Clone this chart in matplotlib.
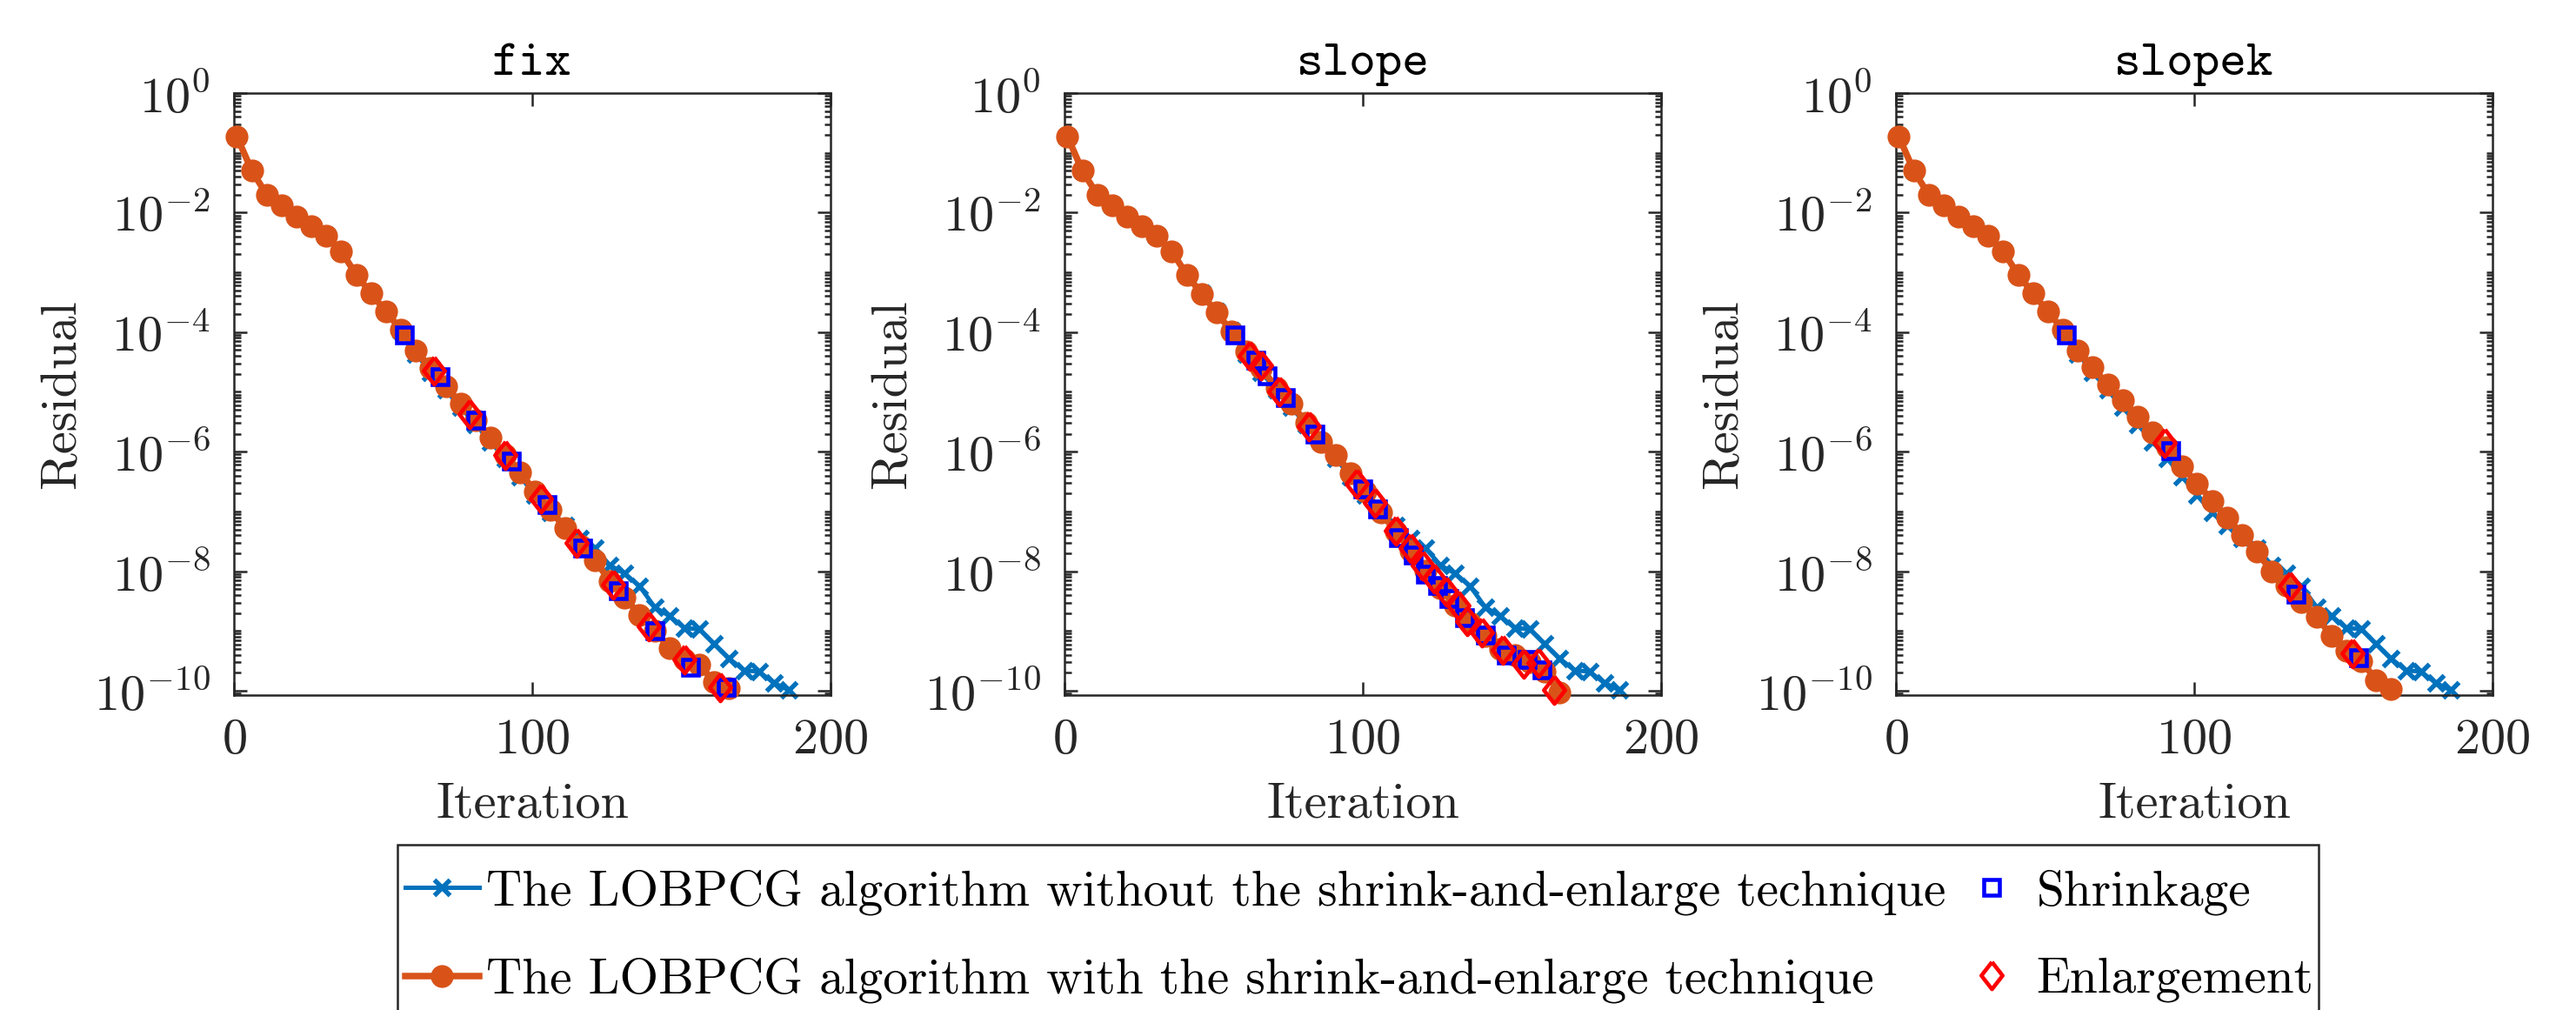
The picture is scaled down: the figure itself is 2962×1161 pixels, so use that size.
import numpy as np
import matplotlib
matplotlib.use("Agg")
import matplotlib.pyplot as plt
from matplotlib.patches import Rectangle
from matplotlib.ticker import FixedLocator, FixedFormatter, LogLocator, NullFormatter

plt.rcParams['mathtext.fontset'] = 'cm'
plt.rcParams['axes.formatter.use_mathtext'] = True
plt.rcParams['font.family'] = 'cmr10'

# ---------------- data (log10 of residual) ----------------
titles = ["fix", "slope", "slopek"]

base_iter = [1, 6, 11, 16, 21, 26, 31, 36, 41, 46, 51, 56, 61, 66, 71, 76, 81, 86, 91,
             96, 101, 106, 111, 116, 121, 126, 131, 136, 141, 146, 151, 156, 161, 166,
             171, 176, 181, 186]
base_log = [-0.73, -1.30, -1.70, -1.88, -2.06, -2.23, -2.39, -2.65, -3.04, -3.35, -3.66,
            -3.98, -4.36, -4.67, -4.97, -5.26, -5.54, -5.83, -6.12, -6.42, -6.73, -7.02,
            -7.24, -7.45, -7.61, -7.90, -8.04, -8.25, -8.60, -8.75, -8.95, -8.97, -9.22,
            -9.46, -9.66, -9.68, -9.87, -9.99]

se_iter = [1, 6, 11, 16, 21, 26, 31, 36, 41, 46, 51, 56, 61, 66, 71, 76, 81, 86, 91,
           96, 101, 106, 111, 116, 121, 126, 131, 136, 141, 146, 151, 156, 161, 166]
fix_log = [-0.73, -1.30, -1.70, -1.88, -2.06, -2.23, -2.39, -2.65, -3.04, -3.35, -3.66,
           -3.96, -4.31, -4.60, -4.90, -5.19, -5.47, -5.76, -6.06, -6.35, -6.67, -6.97,
           -7.28, -7.57, -7.82, -8.16, -8.44, -8.73, -8.99, -9.29, -9.47, -9.57, -9.85,
           -9.96]
slope_log = [-0.73, -1.30, -1.70, -1.88, -2.06, -2.23, -2.39, -2.65, -3.04, -3.36, -3.67,
             -3.99, -4.33, -4.60, -4.93, -5.19, -5.52, -5.83, -6.05, -6.36, -6.67, -7.02,
             -7.33, -7.65, -7.99, -8.28, -8.58, -8.86, -9.08, -9.30, -9.40, -9.52, -9.68,
             -10.03]
slopek_log = [-0.73, -1.30, -1.70, -1.88, -2.06, -2.23, -2.39, -2.65, -3.04, -3.35, -3.66,
              -3.96, -4.31, -4.59, -4.88, -5.14, -5.41, -5.67, -5.93, -6.25, -6.53, -6.82,
              -7.10, -7.39, -7.67, -8.01, -8.24, -8.52, -8.76, -9.08, -9.33, -9.50, -9.82,
              -9.97]

fix_shrink_iter = [57, 69, 81, 93, 105, 117, 129, 141, 153, 165]
fix_shrink_log = [-4.04, -4.74, -5.47, -6.16, -6.89, -7.62, -8.32, -8.99, -9.61, -9.94]
fix_enl_iter = [67, 79, 91, 103, 115, 127, 139, 151, 163]
fix_enl_log = [-4.65, -5.37, -6.06, -6.79, -7.53, -8.22, -8.93, -9.47, -9.94]

slope_shrink_iter = [57, 64, 68, 74, 84, 100, 105, 112, 117, 121, 125, 129, 134, 141,
                     148, 155, 160]
slope_shrink_log = [-4.05, -4.47, -4.73, -5.09, -5.70, -6.63, -6.96, -7.44, -7.73, -8.05,
                    -8.24, -8.46, -8.78, -9.07, -9.41, -9.48, -9.65]
slope_enl_iter = [62, 66, 72, 82, 98, 104, 111, 116, 120, 124, 128, 132, 135, 140, 147,
                  154, 159, 164]
slope_enl_log = [-4.39, -4.56, -4.99, -5.57, -6.53, -6.86, -7.32, -7.61, -7.90, -8.12,
                 -8.34, -8.58, -8.83, -9.02, -9.31, -9.55, -9.53, -9.99]

slopek_shrink_iter = [57, 92, 134, 155]
slopek_shrink_log = [-4.04, -5.98, -8.39, -9.45]
slopek_enl_iter = [90, 132, 153]
slopek_enl_log = [-5.85, -8.26, -9.38]

xticks = [0, 100, 200]
ytick_exps = [0, -2, -4, -6, -8, -10]

legend_labels = ["The LOBPCG algorithm without the shrink-and-enlarge technique",
                 "The LOBPCG algorithm with the shrink-and-enlarge technique",
                 "Shrinkage", "Enlargement"]

# ---------------- styling ----------------
C_BLUE = "#0072BD"
C_ORANGE = "#D95319"
AX_COLOR = "#262626"
DIAMOND = [(0, 1), (0.78, 0), (0, -1), (-0.78, 0), (0, 1)]

W, H = 2962, 1161
DPI = 300
fig = plt.figure(figsize=(W / DPI, H / DPI), dpi=DPI)

ax_lefts = [269, 1224, 2180]
ax_w = 686
ax_top, ax_bot = 107, 799

series = [
    (fix_log, fix_shrink_iter, fix_shrink_log, fix_enl_iter, fix_enl_log),
    (slope_log, slope_shrink_iter, slope_shrink_log, slope_enl_iter, slope_enl_log),
    (slopek_log, slopek_shrink_iter, slopek_shrink_log, slopek_enl_iter, slopek_enl_log),
]

handles = None
for k, (title, left) in enumerate(zip(titles, ax_lefts)):
    ax = fig.add_axes([left / W, 1 - ax_bot / H, ax_w / W, (ax_bot - ax_top) / H])
    se_log, sh_it, sh_log, en_it, en_log = series[k]
    hb, = ax.plot(base_iter, 10 ** np.array(base_log), color=C_BLUE, lw=1.2,
                  marker='x', ms=4.5, mew=1.3, zorder=2, clip_on=False)
    ho, = ax.plot(se_iter, 10 ** np.array(se_log), color=C_ORANGE, lw=1.8,
                  marker='o', ms=5.3, mfc=C_ORANGE, mec=C_ORANGE, zorder=3, clip_on=False)
    hs, = ax.plot(sh_it, 10 ** np.array(sh_log), ls='none', marker='s', ms=4.5,
                  mfc='none', mec='#0000FF', mew=1.1, zorder=4, clip_on=False)
    he, = ax.plot(en_it, 10 ** np.array(en_log), ls='none', marker=DIAMOND, ms=7.5,
                  mfc='none', mec='#FF0000', mew=1.1, zorder=5, clip_on=False)
    if handles is None:
        handles = [hb, ho, hs, he]

    ax.set_yscale('log')
    ax.set_xlim(0, 200)
    ax.set_ylim(10 ** -10.073, 1)
    ax.xaxis.set_major_locator(FixedLocator(xticks))
    ax.set_xticklabels([r'$%d$' % v for v in xticks])
    ax.yaxis.set_major_locator(FixedLocator([10.0 ** e for e in ytick_exps]))
    ax.yaxis.set_major_formatter(FixedFormatter([r'$10^{%d}$' % e for e in ytick_exps]))
    ax.yaxis.set_minor_locator(LogLocator(base=10, subs=np.arange(1, 10), numticks=100))
    ax.yaxis.set_minor_formatter(NullFormatter())
    ax.tick_params(which='both', direction='in', top=True, right=True,
                   colors=AX_COLOR, labelsize=14, width=0.6)
    ax.tick_params(which='major', length=3.5, pad=6.5)
    ax.tick_params(which='minor', length=1.8)
    for sp in ax.spines.values():
        sp.set_color(AX_COLOR)
        sp.set_linewidth(0.6)

    ax.set_title(title, fontfamily='cmtt10', fontsize=14, pad=5, color='black')
    ax.set_xlabel('Iteration', fontfamily='cmr10', fontsize=14, color=AX_COLOR)
    ax.set_ylabel('Residual', fontfamily='cmr10', fontsize=14, color=AX_COLOR)
    ax.xaxis.set_label_coords(0.5, -0.145)
    ax.yaxis.set_label_coords(-0.25, 0.5)

# legend: entries without frame, frame drawn as a box running past the figure bottom
leg = fig.legend(handles, legend_labels, loc='upper left',
                 bbox_to_anchor=(466 / W, 1 - 999 / H), ncol=2,
                 prop={'family': 'cmr10', 'size': 13.75}, frameon=False,
                 handlelength=1.48, handletextpad=0.15,
                 columnspacing=0.18, labelspacing=0.86, borderpad=0.0,
                 numpoints=1, borderaxespad=0)
fig.add_artist(Rectangle((457 / W, 1 - 1250 / H), (2666 - 457) / W, (1250 - 971) / H,
                         transform=fig.transFigure, fill=False, lw=0.6,
                         ec=AX_COLOR, clip_on=False))

fig.savefig("out.png", dpi=DPI)
